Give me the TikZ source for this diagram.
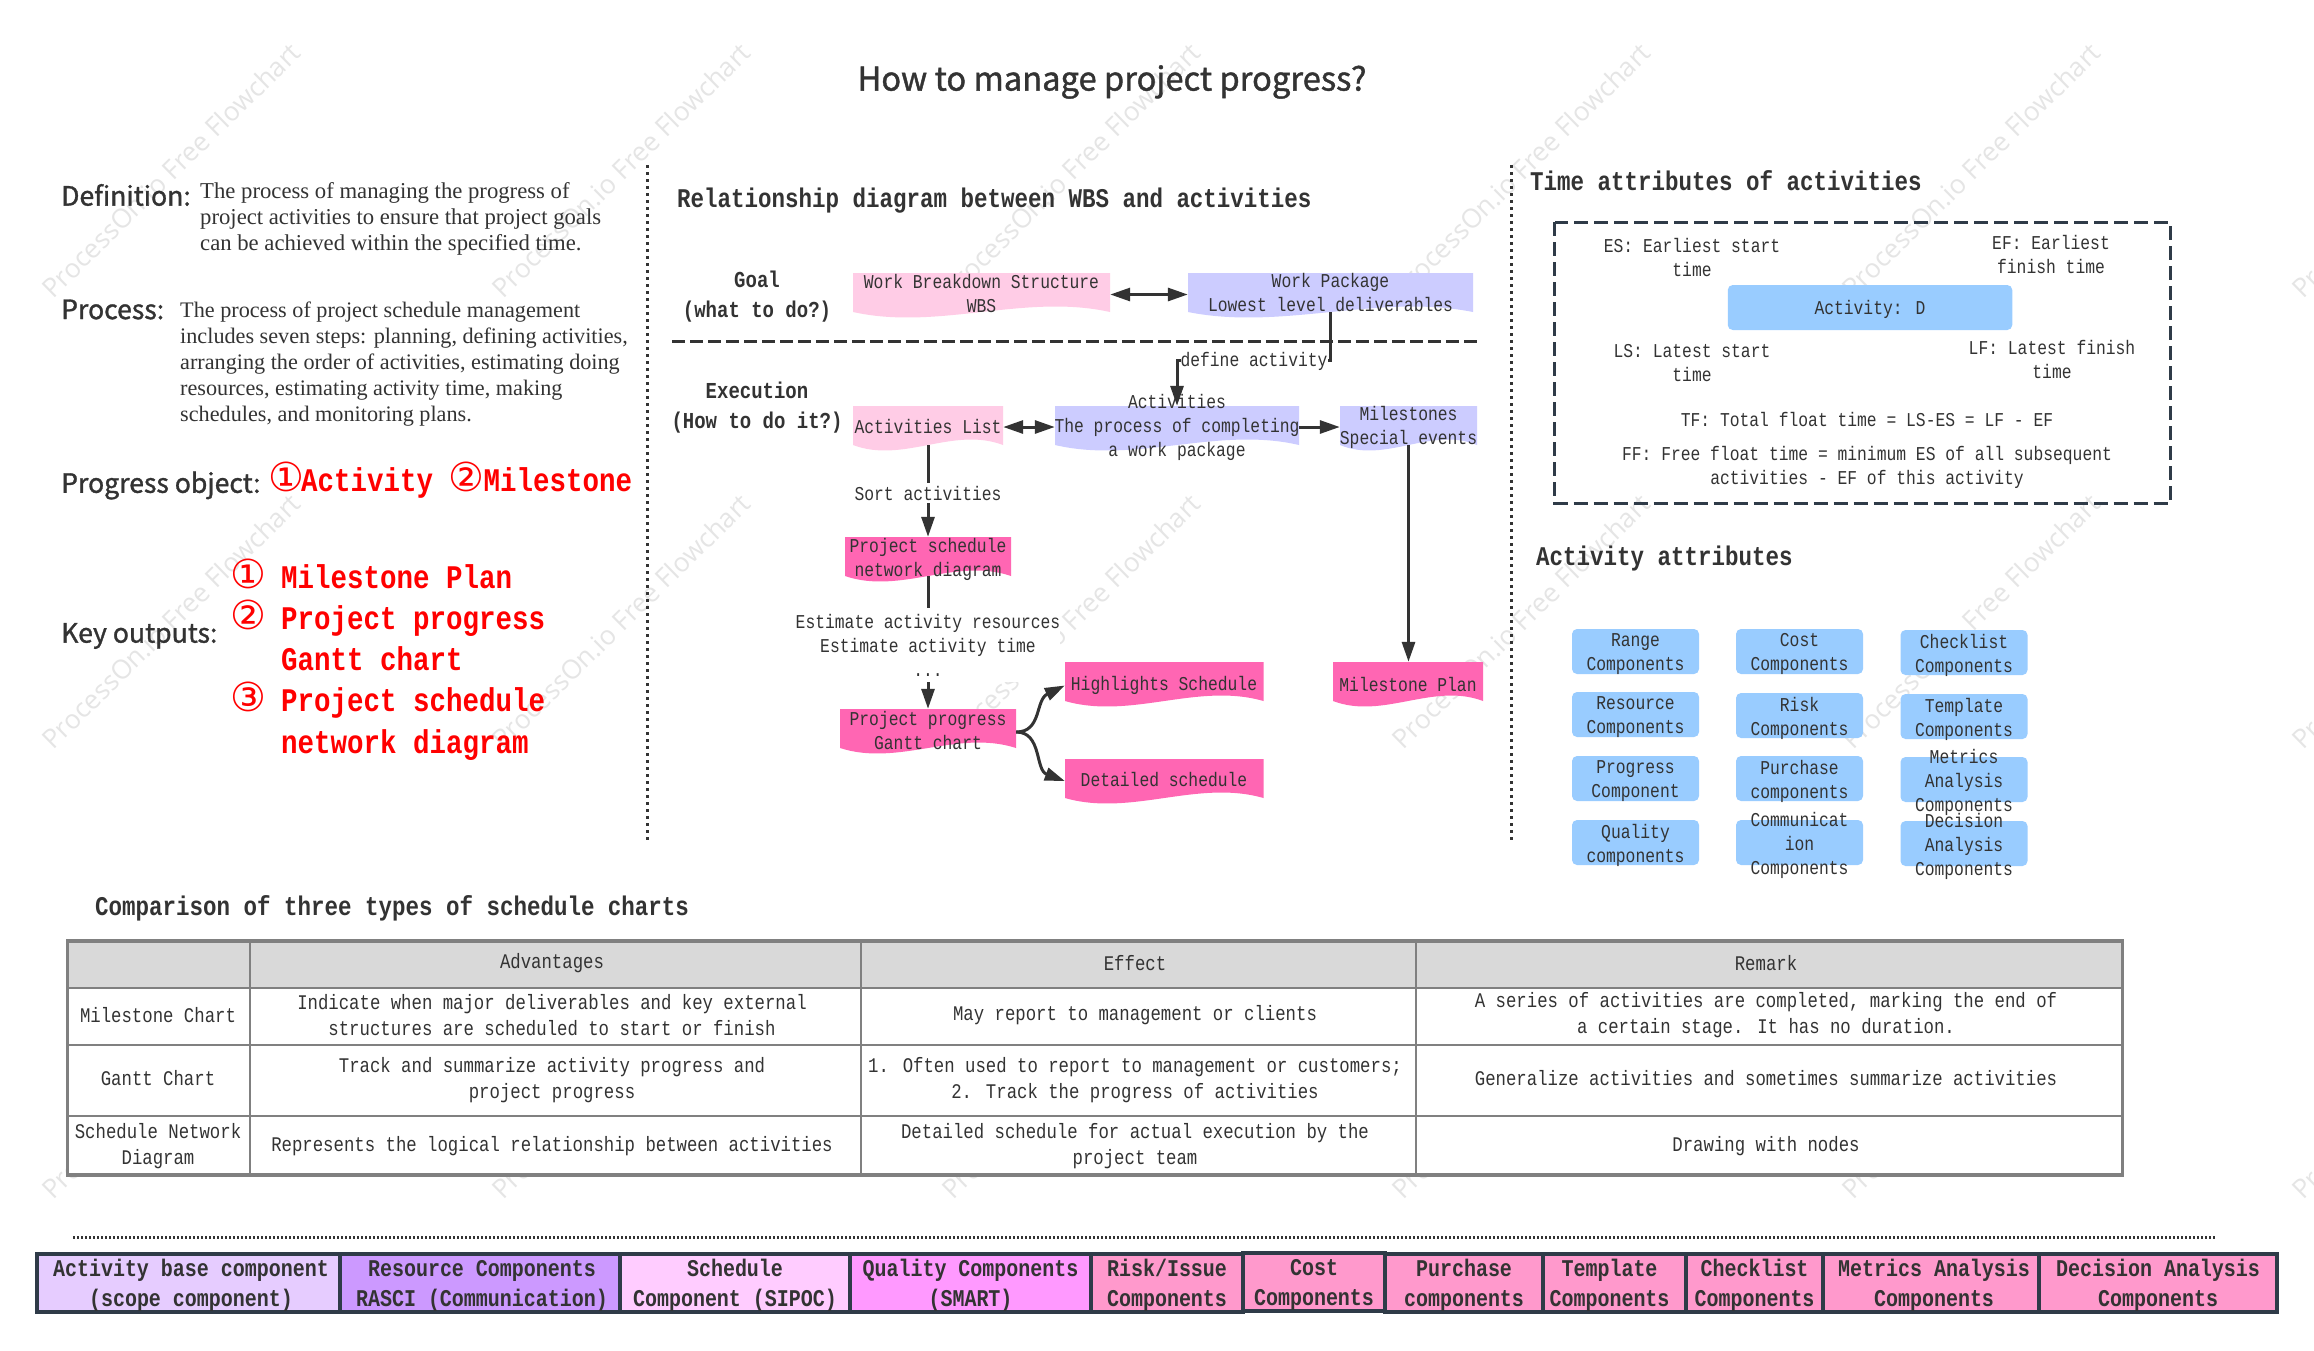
\documentclass[tikz,border=0pt]{standalone}
\usepackage{fontspec}
\usetikzlibrary{arrows.meta}
\setmainfont{Liberation Serif}
\newfontfamily\gothic[FakeStretch=.833]{Liberation Mono}
\newfontfamily\headsans[FakeBold=1.2]{Noto Sans CJK SC}
\newfontfamily\sym{DejaVu Sans}
\newfontfamily\wmfont{Open Sans}
\definecolor{ink}{HTML}{333333}
\definecolor{frame}{HTML}{2F3B48}
\definecolor{lpink}{HTML}{FFCCE6}
\definecolor{lav}{HTML}{CCCCFF}
\definecolor{hot}{HTML}{FF66B3}
\definecolor{sky}{HTML}{99CCFF}
\definecolor{redt}{HTML}{FF0000}
\definecolor{b1c}{HTML}{E6CCFF}
\definecolor{b2c}{HTML}{CC99FF}
\definecolor{b3c}{HTML}{FFCCFF}
\definecolor{b4c}{HTML}{FF99FF}
\definecolor{b5c}{HTML}{FF99CC}
\tikzset{
 txtS/.style={font=\gothic\fontsize{19.6}{24}\selectfont,align=center,inner sep=0pt,text=ink},
 txtT/.style={font=\gothic\fontsize{20.8}{26.6}\selectfont,align=center,inner sep=0pt,text=ink},
 txtH/.style={font=\gothic\bfseries\fontsize{27}{30}\selectfont,anchor=west,inner sep=0pt,text=ink},
 txtG/.style={font=\gothic\bfseries\fontsize{22.8}{30}\selectfont,align=center,inner sep=0pt,text=ink},
 txtB/.style={font=\gothic\bfseries\fontsize{24}{30}\selectfont,align=center,text=ink},
 txtR/.style={font=\gothic\bfseries\fontsize{33}{41.2}\selectfont,align=left,anchor=west,inner sep=0pt,text=redt},
 head/.style={font=\headsans\fontsize{26.6}{32}\selectfont,anchor=west,inner sep=0pt,text=ink},
 para/.style={font=\fontsize{22.2}{25.9}\selectfont,align=left,anchor=west,inner sep=0pt,text=ink},
 wm/.style={font=\wmfont\fontsize{26.5}{30}\selectfont,rotate=44.5,text=black!10,inner sep=0pt},
 conn/.style={draw=ink,line width=3pt},
 tip/.style={-{Triangle[length=20pt,width=13pt]}},
 tips/.style={{Triangle[length=20pt,width=13pt]}-{Triangle[length=20pt,width=13pt]}},
 dotline/.style={draw=ink,line width=3pt,dash pattern=on 3pt off 4pt},
 sep/.style={draw=frame,line width=3pt,dash pattern=on 14pt off 6pt},
 rbox/.style={fill=sky,rounded corners=5pt,inner sep=0pt,minimum width=127pt,minimum height=45pt},
 btm/.style={txtB,draw=frame,line width=4pt,inner sep=0pt,minimum height=58pt},
 tgrid/.style={draw=black!50}
}
\newcommand\wavebox[6]{%
 \path[fill=#6] (#2,#3) -- (#4,#3) -- (#4,#5)
  .. controls ({#4-(#4-#2)/3},{#5-19}) and ({#2+(#4-#2)/3},{#5+19}) .. (#2,#5) -- cycle;
 \node[inner sep=0pt,minimum width={(#4-#2)*1pt},minimum height={(#5-#3)*1pt}] (#1) at ({(#2+#4)/2},{(#3+#5)/2}) {};}
\newcommand\attrbox[4]{%
 \node[rbox] (#1) at (#2,#3) {};
 \node[txtS] (#1-t) at (#2,{#3+2.5}) {#4};}
\newcommand\circnum[1]{\makebox[30pt][c]{\sym\mdseries\fontsize{40}{41}\selectfont #1}}
\newcommand\bs{\rule{0pt}{22pt}}
\begin{document}
\begin{tikzpicture}[x=1pt,y=-1pt]
\useasboundingbox (0,0) rectangle (2314,1350);
\fill[white] (0,0) rectangle (2314,1350);
% watermark
\begin{scope}
\clip (0,0) rectangle (2314,1350);
\foreach \cx in {171,621,1071,1521,1971,2421}
 \foreach \cy in {170,621,1071}
  \node[wm] at (\cx,\cy) {ProcessOn.io Free Flowchart};
\end{scope}
% title
\node[font=\headsans\fontsize{32.7}{40}\selectfont,text=ink,inner sep=0pt] (title) at (1112,82) {How to manage project progress?};
% left column
\node[head] (defh) at (61,195) {Definition:};
\node[para,font=\fontsize{22.7}{25.9}\selectfont] (defp) at (200,219) {The process of managing the progress of\\project activities to ensure that project goals\\can be achieved within the specified time.};
\node[head] (proch) at (61,309.5) {Process:};
\node[para] (procp) at (180,364) {The process of project schedule management\\includes seven steps: planning, defining activities,\\arranging the order of activities, estimating doing\\resources, estimating activity time, making\\schedules, and monitoring plans.};
\node[head] (progh) at (61,485.5) {Progress object:};
\node[txtR] (progv) at (271,480.5) {\circnum{①}Activity \hspace*{2pt}\circnum{②}\hspace*{2pt}Milestone};
\node[head] (keyh) at (61,636) {Key outputs:};
\node[txtR] (keyv) at (233,659.5) {\circnum{①}\hspace{18pt}Milestone Plan\\\circnum{②}\hspace{18pt}Project progress\\\hspace*{48pt}Gantt chart\\\circnum{③}\hspace{18pt}Project schedule\\\hspace*{48pt}network diagram};
% dotted separators
\coordinate (d1a) at (647,165); \coordinate (d1b) at (647,843);
\coordinate (d2a) at (1511,165); \coordinate (d2b) at (1511,843);
\draw[dotline] (d1a) -- (d1b);
\draw[dotline] (d2a) -- (d2b);
% middle
\node[txtH] (relh) at (677,201) {Relationship diagram between WBS and activities};
\node[txtG] (goal) at (757,296.5) {Goal\\(what to do?)};
\node[txtG] (exec) at (757,407.5) {Execution\\(How to do it?)};
\coordinate (da) at (672,341); \coordinate (db) at (1480,341);
\draw[sep,draw=ink,dash pattern=on 13pt off 5pt] (da) -- (db);
\wavebox{wbs}{853}{273}{1110}{312}{lpink}
\wavebox{wp}{1188}{273}{1473}{312}{lav}
\wavebox{al}{853}{406}{1003}{445}{lpink}
\wavebox{act}{1055}{406}{1299}{445}{lav}
\wavebox{ms}{1340}{406}{1477}{445}{lav}
\wavebox{psnd}{845}{537}{1011}{576}{hot}
\wavebox{ppgc}{840}{709}{1016}{748}{hot}
\wavebox{hs}{1065}{662}{1263.5}{701}{hot}
\wavebox{ds}{1065}{759}{1263.5}{798}{hot}
\wavebox{mp}{1333}{662}{1483}{701}{hot}
\draw[conn,tips] ([yshift=-2pt]wbs.east) -- ([yshift=-2pt]wp.west);
\draw[conn,tip] (wp.south) -- ++(0,48) -| (act.north);
\draw[conn,tips] ([yshift=-1.5pt]al.east) -- ([yshift=-1.5pt]act.west);
\draw[conn,tip] ([yshift=-1.5pt]act.east) -- ([yshift=-1.5pt]ms.west);
\draw[conn,tip] (al.south) -- (psnd.north);
\draw[conn,tip] (psnd.south) -- (ppgc.north);
\draw[conn,tip] (ms.south) -- (ms.south|-mp.north);
\draw[conn,tip] ([yshift=-3.5pt]ppgc.east) .. controls (1042,732) and (1035,700) .. ([yshift=-4pt]hs.west);
\draw[conn,tip] ([yshift=-3.5pt]ppgc.east) .. controls (1042,732) and (1035,770) .. ([yshift=-2.5pt]ds.west);
\node[txtS,fill=white] (lbl1) at (1254,361) {define activity};
\node[txtS,fill=white,inner ysep=3pt] (lbl2) at (928,493) {Sort activities};
\node[txtS,fill=white,inner ysep=6pt] (lbl3) at (928,645) {Estimate activity resources\\Estimate activity time\\...};
\node[txtS] (wbs-l) at (981.5,293) {Work Breakdown Structure\\WBS};
\node[txtS] (wp-l) at (1330.5,293) {Work Package\\Lowest level deliverables};
\node[txtS] (al-l) at (928,426.5) {Activities List};
\node[txtS] (act-l) at (1177,427.5) {Activities\\The process of completing\\a work package};
\node[txtS] (ms-l) at (1408.5,427.5) {Milestones\\Special events};
\node[txtS] (psnd-l) at (928,559.5) {Project schedule\\network diagram};
\node[txtS] (ppgc-l) at (928,730) {Project progress\\Gantt chart};
\node[txtS] (hs-l) at (1164,685) {Highlights Schedule};
\node[txtS] (ds-l) at (1164,780) {Detailed schedule};
\node[txtS] (mp-l) at (1408,684) {Milestone Plan};
% right top
\node[txtH] (timeh) at (1530,180.5) {Time attributes of activities};
\draw[sep] (1554.5,222) rectangle (2170,503);
\node[txtS] (es) at (1692,257.5) {ES: Earliest start\\time};
\node[txtS] (ef) at (2051,254.5) {EF: Earliest\\finish time};
\node[rbox,minimum width=284.5pt] (actd) at (1870,307.5) {};
\node[txtS] (actd-t) at (1870,309) {Activity: D};
\node[txtS] (ls) at (1692,363) {LS: Latest start\\time};
\node[txtS] (lf) at (2052,359) {LF: Latest finish\\time};
\node[txtS] (tf) at (1867,419) {TF: Total float time = LS-ES = LF - EF};
\node[txtS] (ff) at (1867,467) {FF: Free float time = minimum ES of all subsequent\\activities - EF of this activity};
% right bottom
\node[txtH] (attrh) at (1536,559) {Activity attributes};
\attrbox{r11}{1635.5}{651.5}{Range\\Components}
\attrbox{r21}{1635.5}{714.5}{Resource\\Components}
\attrbox{r31}{1635.5}{778.5}{Progress\\Component}
\attrbox{r41}{1635.5}{842.5}{Quality\\components}
\attrbox{r12}{1799.5}{651.5}{Cost\\Components}
\attrbox{r22}{1799.5}{715.5}{Risk\\Components}
\attrbox{r32}{1799.5}{778.5}{Purchase\\components}
\attrbox{r42}{1799.5}{842.5}{Communicat\\ion\\Components}
\attrbox{r13}{1964}{652.5}{Checklist\\Components}
\attrbox{r23}{1964}{716.5}{Template\\Components}
\attrbox{r33}{1964}{779.5}{Metrics\\Analysis\\Components}
\attrbox{r43}{1964}{843.5}{Decision\\Analysis\\Components}
% table
\node[txtH] (cmph) at (95,908.5) {Comparison of three types of schedule charts};
\fill[white] (67.5,988) rectangle (2122.5,1175);
\fill[black!15] (67.5,941) rectangle (2122.5,988);
\draw[tgrid,line width=1.5pt] (250,941) -- (250,1175);
\draw[tgrid,line width=1.5pt] (861,941) -- (861,1175);
\draw[tgrid,line width=1.5pt] (1416,941) -- (1416,1175);
\draw[tgrid,line width=2.5pt] (67.5,988) -- (2122.5,988);
\draw[tgrid,line width=2.5pt] (67.5,1045) -- (2122.5,1045);
\draw[tgrid,line width=2.5pt] (67.5,1116) -- (2122.5,1116);
\draw[tgrid,line width=3.5pt] (67.5,941) rectangle (2122.5,1175);
\node[txtT] (h2) at (552,963) {Advantages};
\node[txtT] (h3) at (1135,963) {Effect};
\node[txtT] (h4) at (1766,963) {Remark};
\node[txtT] (c11) at (158,1015) {Milestone Chart};
\node[txtT] (c12) at (552,1015) {Indicate when major deliverables and key external\\structures are scheduled to start or finish};
\node[txtT] (c13) at (1135,1015.5) {May report to management or clients};
\node[txtT] (c14) at (1766,1015) {A series of activities are completed, marking the end of\\a certain stage. It has no duration.};
\node[txtT] (c21) at (158,1078.5) {Gantt Chart};
\node[txtT] (c22) at (552,1080) {Track and summarize activity progress and\\project progress};
\node[txtT] (c23) at (1135,1080) {1. Often used to report to management or customers;\\2. Track the progress of activities};
\node[txtT] (c24) at (1766,1078.5) {Generalize activities and sometimes summarize activities};
\node[txtT] (c31) at (158,1146) {Schedule Network\\Diagram};
\node[txtT] (c32) at (552,1146) {Represents the logical relationship between activities};
\node[txtT] (c33) at (1135,1146) {Detailed schedule for actual execution by the\\project team};
\node[txtT] (c34) at (1766,1146) {Drawing with nodes};
% bottom band
\coordinate (ba) at (73,1237); \coordinate (bb) at (2215,1237);
\draw[draw=ink,line width=3pt,dash pattern=on 2pt off 2pt] (ba) -- (bb);
\node[btm,fill=b1c,minimum width=303pt] (b1) at (188.5,1283) {\bs\hspace*{5pt}Activity base component\\\hspace*{5pt}(scope component)};
\node[btm,fill=b2c,minimum width=280pt] (b2) at (480,1283) {\bs\hspace*{4pt}Resource Components\\\hspace*{4pt}RASCI (Communication)};
\node[btm,fill=b3c,minimum width=230pt] (b3) at (735,1283) {\bs Schedule\\Component (SIPOC)};
\node[btm,fill=b4c,minimum width=241pt] (b4) at (970.5,1283) {\bs Quality Components\\(SMART)};
\node[btm,fill=b5c,minimum width=152pt] (b5) at (1167,1283) {\bs Risk/Issue\\Components};
\node[btm,fill=b5c,minimum width=158pt] (b7) at (1464,1283) {\bs Purchase\\components};
\node[btm,fill=b5c,minimum width=143pt] (b8) at (1614.5,1283) {\bs Template\hspace*{10pt}\\Components\hspace*{10pt}};
\node[btm,fill=b5c,minimum width=137pt] (b9) at (1754.5,1283) {\bs Checklist\\Components};
\node[btm,fill=b5c,minimum width=216pt] (b10) at (1931,1283) {\bs\hspace*{6pt}Metrics Analysis\\\hspace*{6pt}Components};
\node[btm,fill=b5c,minimum width=238pt] (b11) at (2158,1283) {\bs Decision Analysis\\Components};
\node[btm,fill=b5c,minimum width=142pt] (b6) at (1314,1281.5) {\bs Cost\\Components};
\end{tikzpicture}
\end{document}
